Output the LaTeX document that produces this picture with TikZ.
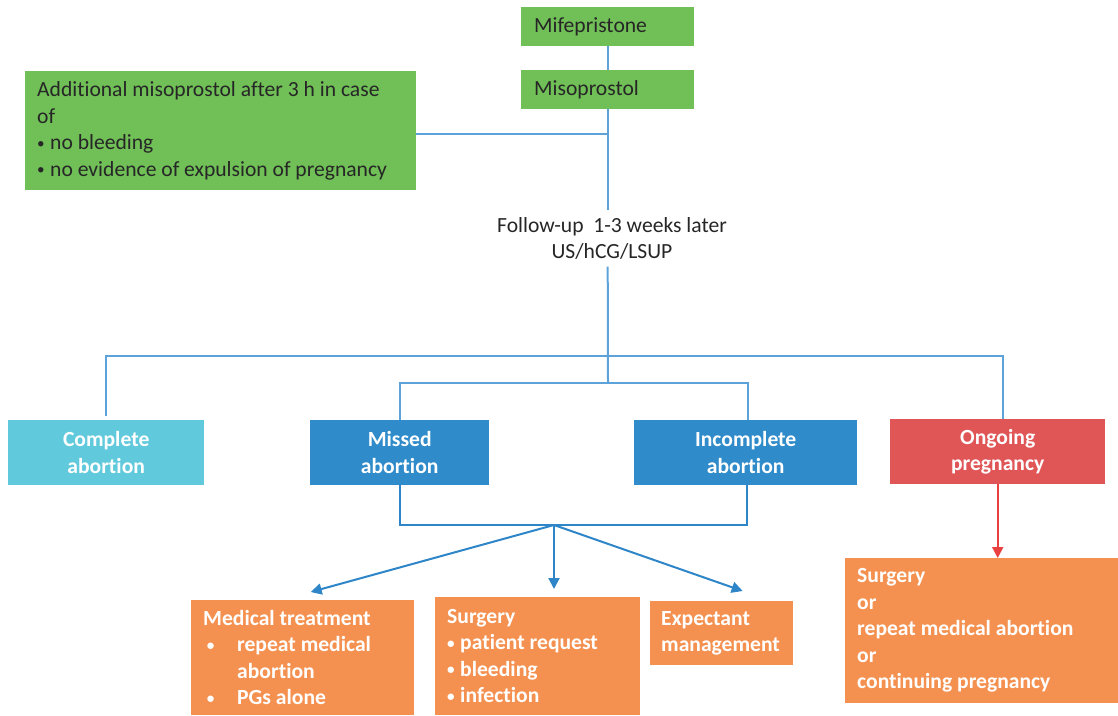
\documentclass[tikz,border=0pt]{standalone}
\usepackage{fontspec}
\usepackage{graphicx}
\setmainfont[Ligatures=NoCommon]{Carlito}
\usetikzlibrary{arrows.meta}
\definecolor{boxgreen}{HTML}{70BF57}
\definecolor{boxcyan}{HTML}{60C9DC}
\definecolor{boxblue}{HTML}{2F8BC9}
\definecolor{boxred}{HTML}{E05657}
\definecolor{boxorange}{HTML}{F59150}
\definecolor{linkblue}{HTML}{5DA3DA}
\definecolor{arrowblue}{HTML}{2E86C8}
\definecolor{arrowred}{HTML}{E8413F}
\tikzstyle{box}=[rectangle, inner ysep=0pt, inner xsep=13pt, anchor=north west, font=\fontsize{21.6}{26.5}\selectfont]
\tikzstyle{greenbox}=[box, fill=boxgreen, text=black!85, align=flush left]
\tikzstyle{result}=[box, text=white, align=center, font=\fontsize{21.6}{26.5}\selectfont\bfseries]
\tikzstyle{treat}=[box, fill=boxorange, text=white, align=flush left, inner xsep=12pt, font=\fontsize{21.6}{26.5}\selectfont\bfseries]
\tikzstyle{link}=[draw=linkblue, line width=2pt]
\tikzstyle{arrow}=[draw=arrowblue, line width=2pt, -{Triangle[length=11pt,width=11pt]}]
\newcommand{\smalldot}{\raisebox{1.5pt}{\scalebox{0.7}{•}}}
\newcommand{\bul}{\makebox[34pt][l]{\,\smalldot}}
\newcommand{\sbul}{\makebox[13pt][l]{\smalldot}}
\begin{document}
\begin{tikzpicture}[x=1pt, y=-1pt]
	\useasboundingbox (0,0) rectangle (1118,715);

	% top
	\node[greenbox, minimum width=173pt, minimum height=39pt, text width=147pt](mife) at (521,7){Mifepristone};
	\node[greenbox, minimum width=173pt, minimum height=39pt, text width=147pt](miso) at (521,70){Misoprostol};
	\node[greenbox, minimum width=391pt, minimum height=119pt, text width=367pt, inner xsep=12pt](addmiso) at (25,71){Additional misoprostol after 3 h in case\\of\\\sbul no bleeding\\\sbul no evidence of expulsion of pregnancy};
	\node[align=center, inner ysep=0pt, minimum height=56pt, font=\fontsize{21.6}{26.5}\selectfont, text=black!85](followup) at (612,238.5){Follow-up\ \ 1-3 weeks later\\US/hCG/LSUP};

	\draw[link] (mife.south) -- (miso.north);
	\draw[link] (miso.south) -- (miso.south |- followup.north);
	\draw[link] ([yshift=-3.5pt]addmiso.east) -- ([yshift=-3.5pt]addmiso.east -| miso.south);

	% results
	\node[result, fill=boxcyan, minimum width=196pt, minimum height=65pt, text width=170pt](complete) at (8,420){Complete\\abortion};
	\node[result, fill=boxblue, minimum width=179pt, minimum height=65pt, text width=153pt](missed) at (310,420){Missed\\abortion};
	\node[result, fill=boxblue, minimum width=223pt, minimum height=65pt, text width=197pt](incomplete) at (634,420){Incomplete\\abortion};
	\node[result, fill=boxred, minimum width=215pt, minimum height=65pt, text width=189pt](ongoing) at (890,419){Ongoing\\pregnancy};

	\coordinate (split1) at (608,356);
	\coordinate (split2) at (608,383);
	\draw[link] (followup.south -| miso.south) -- (split2);
	\draw[link] ([yshift=4pt]complete.north) |- (split1) -| ([xshift=5pt]ongoing.north);
	\draw[link] (missed.north) |- (split2) -| ([xshift=2.5pt]incomplete.north);

	% treatments
	\node[treat, minimum width=223pt, minimum height=115pt, text width=199pt](medical) at (191,600){Medical treatment\\\bul repeat medical\\\hspace*{34pt}abortion\\\bul PGs alone};
	\node[treat, minimum width=205pt, minimum height=118pt, text width=181pt](surgery) at (435,597){Surgery\\\sbul patient request\\\sbul bleeding\\\sbul infection};
	\node[treat, minimum width=143pt, minimum height=64pt, text width=121pt, inner xsep=11pt](expectant) at (650,601){Expectant\\management};
	\node[treat, minimum width=273pt, minimum height=145pt, text width=249pt](options) at (845,558){Surgery\\or\\repeat medical abortion\\or\\continuing pregnancy};

	\coordinate (hub) at (554,525);
	\draw[draw=arrowblue, line width=2pt] (missed.south) |- (hub) -| ([xshift=1.5pt]incomplete.south);
	\draw[arrow] (hub) -- ([xshift=8pt,yshift=8pt]medical.north);
	\draw[arrow] (hub) -- ([yshift=8pt]hub |- surgery.north);
	\draw[arrow] (hub) -- ([xshift=21pt,yshift=10pt]expectant.north);
	\draw[draw=arrowred, line width=2pt, -{Triangle[length=11pt,width=11pt]}] (ongoing.south) -- (ongoing.south |- options.north);

\end{tikzpicture}
\end{document}
